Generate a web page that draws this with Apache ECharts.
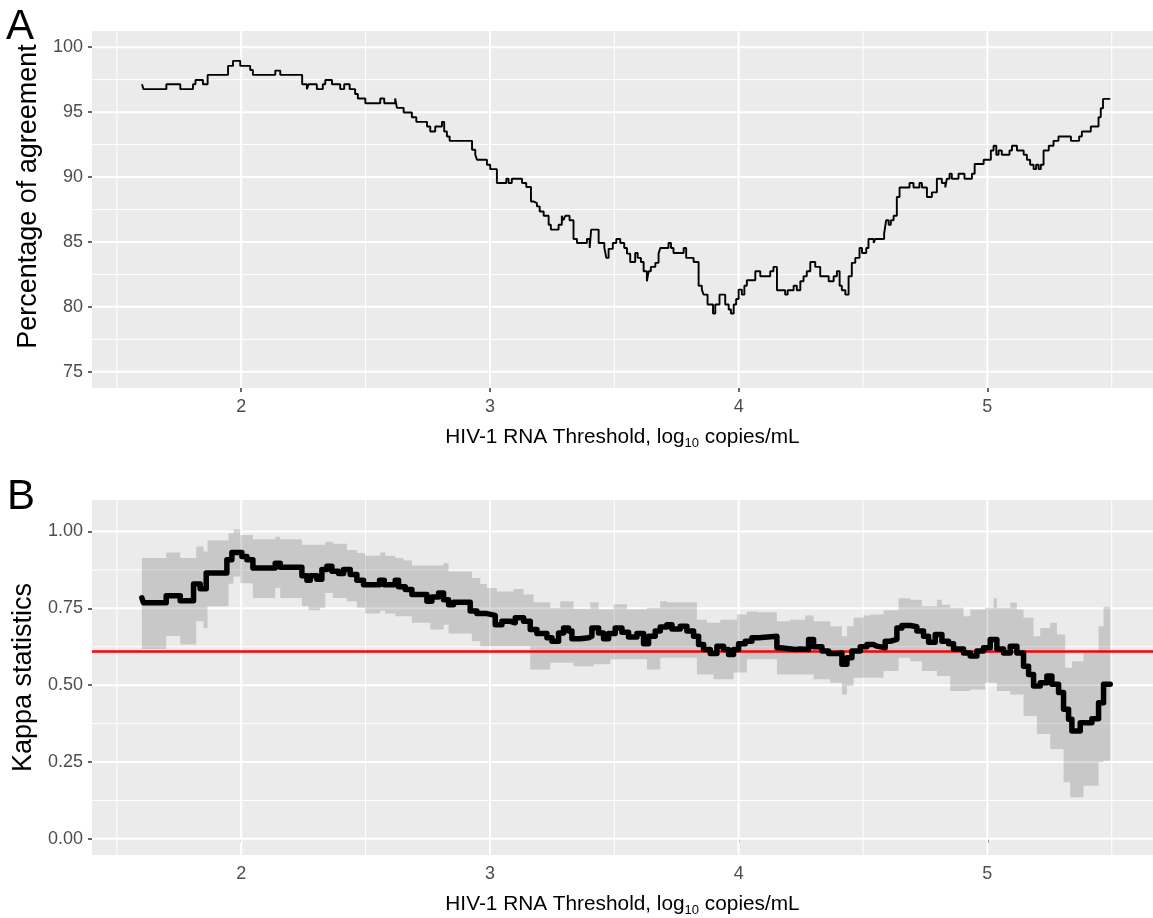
<!DOCTYPE html>
<html><head><meta charset="utf-8">
<script src="https://cdn.jsdelivr.net/npm/echarts@6/dist/echarts.min.js"></script>
<style>html,body{margin:0;padding:0;background:#fff}#c{width:1153px;height:918px}</style>
</head><body><div id="c"></div>
<script>
// ---- axis ticks ----
const xTicks = [2, 3, 4, 5];
const xMinor = [1.5, 2.5, 3.5, 4.5, 5.5];
const agreeTicks = [75, 80, 85, 90, 95, 100];
const agreeMinor = [77.5, 82.5, 87.5, 92.5, 97.5];
const kappaTicks = [0, 0.25, 0.5, 0.75, 1];
const kappaMinor = [0.125, 0.375, 0.625, 0.875];
const xRange = [1.4, 5.666];
const agreeRange = [73.75, 101.25];
const kappaRange = [-0.0525, 1.1025];

// ---- Panel A: percentage of agreement (step) ----
const agreeX = [1.601,1.607,1.699,1.755,1.806,1.816,1.846,1.865,1.947,1.967,1.996,2.036,2.047,2.137,2.157,2.245,2.264,2.271,2.304,2.328,2.338,2.365,2.398,2.414,2.436,2.458,2.469,2.499,2.559,2.575,2.619,2.626,2.653,2.686,2.704,2.747,2.760,2.780,2.807,2.816,2.827,2.838,2.928,2.941,2.948,2.988,3.001,3.028,3.066,3.075,3.088,3.129,3.146,3.165,3.175,3.189,3.200,3.216,3.236,3.245,3.276,3.289,3.296,3.303,3.320,3.336,3.350,3.390,3.401,3.407,3.437,3.460,3.468,3.477,3.494,3.508,3.524,3.540,3.551,3.564,3.584,3.594,3.607,3.618,3.631,3.638,3.647,3.665,3.678,3.685,3.718,3.728,3.738,3.779,3.789,3.819,3.839,3.852,3.859,3.875,3.897,3.906,3.923,3.946,3.960,3.969,3.980,3.990,4.000,4.013,4.023,4.033,4.067,4.087,4.127,4.140,4.154,4.187,4.197,4.221,4.234,4.248,4.261,4.274,4.288,4.308,4.328,4.362,4.382,4.395,4.406,4.415,4.429,4.442,4.455,4.469,4.486,4.496,4.513,4.522,4.543,4.549,4.585,4.593,4.603,4.612,4.623,4.636,4.647,4.687,4.703,4.727,4.737,4.757,4.777,4.797,4.817,4.831,4.837,4.848,4.857,4.884,4.908,4.938,4.949,4.985,5.014,5.025,5.036,5.045,5.058,5.089,5.099,5.119,5.146,5.159,5.172,5.186,5.196,5.206,5.215,5.226,5.247,5.266,5.286,5.336,5.369,5.380,5.416,5.447,5.456,5.465,5.494];
const agreeY = [97.15,96.77,97.15,96.77,97.15,97.48,97.15,97.87,98.56,98.95,98.56,98.25,97.87,98.2,97.87,97.15,96.77,97.15,96.77,97.15,97.48,97.15,96.77,97.15,96.77,96.4,96.05,95.69,96.05,95.69,96.05,95.33,94.97,94.61,94.25,93.89,93.51,93.89,94.25,93.51,93.12,92.79,92.1,91.72,91.33,90.95,90.61,89.54,89.87,89.54,89.87,89.54,89.23,88.12,88.0,87.74,87.35,87.02,86.33,85.95,86.33,87.02,86.67,87.02,86.67,85.23,84.92,85.23,84.54,85.95,84.92,84.54,83.77,84.47,84.92,85.23,84.92,84.54,84.1,83.46,84.15,83.77,83.46,82.74,81.97,82.74,83.08,83.39,84.1,84.54,84.92,84.54,84.15,84.54,83.77,83.46,81.63,81.33,80.94,80.18,79.49,80.18,80.94,80.18,79.8,79.49,80.18,80.6,81.33,80.94,81.63,82.05,82.74,82.36,82.74,83.08,81.28,80.94,81.28,81.63,81.28,81.97,82.36,82.74,83.46,83.08,82.36,81.97,82.36,82.74,81.63,81.28,80.94,82.36,83.39,83.77,84.54,84.15,84.54,85.23,84.92,85.23,85.64,86.67,86.33,86.67,87.02,88.46,89.2,89.54,89.2,89.54,89.2,88.46,88.82,89.87,89.54,89.2,89.87,90.25,89.87,90.25,89.87,90.25,91.0,91.33,92.05,92.41,91.72,92.05,91.72,92.05,92.41,92.05,91.72,91.33,90.95,90.61,90.95,90.61,90.95,92.05,92.41,92.79,93.12,92.79,93.12,93.51,93.89,94.61,95.3,96.02,96.02];

// ---- Panel B: kappa statistics (step) ----
const kappaX = [1.6005,1.6072,1.6984,1.7547,1.8083,1.835,1.8592,1.9423,1.9624,2.0026,2.0227,2.0469,2.1366,2.1567,2.2439,2.264,2.2774,2.3042,2.3243,2.3444,2.3645,2.3913,2.4114,2.4382,2.465,2.4918,2.5562,2.5749,2.6192,2.6326,2.6594,2.6862,2.7465,2.7666,2.7934,2.8135,2.8336,2.8537,2.9207,2.9475,2.9877,3.0213,3.0481,3.0816,3.1017,3.1352,3.162,3.1888,3.2291,3.2492,3.276,3.2961,3.3162,3.3296,3.3631,3.3966,3.41,3.4368,3.4569,3.477,3.5038,3.5306,3.5574,3.591,3.6177,3.6378,3.6646,3.6848,3.7116,3.7317,3.7652,3.7919,3.8188,3.8389,3.859,3.8858,3.9126,3.9394,3.9595,3.9796,3.9997,4.0266,4.0533,4.0801,4.1538,4.1673,4.2276,4.2477,4.2812,4.3013,4.3348,4.3616,4.3951,4.4152,4.4353,4.4554,4.4889,4.5157,4.5425,4.5558,4.5893,4.6094,4.6362,4.6563,4.6898,4.7166,4.7434,4.7636,4.7904,4.8172,4.844,4.8641,4.9043,4.9311,4.9579,4.9847,5.0115,5.0383,5.0651,5.0919,5.1187,5.1455,5.1656,5.1857,5.2126,5.2394,5.2595,5.2863,5.3064,5.3265,5.3399,5.3734,5.4203,5.4471,5.4672,5.494];
const kappaY = [0.784,0.768,0.791,0.775,0.829,0.814,0.865,0.908,0.932,0.919,0.908,0.881,0.897,0.884,0.856,0.841,0.856,0.845,0.876,0.887,0.871,0.863,0.876,0.86,0.841,0.827,0.841,0.827,0.841,0.82,0.811,0.795,0.773,0.787,0.8,0.778,0.762,0.77,0.741,0.733,0.727,0.697,0.708,0.703,0.719,0.708,0.681,0.668,0.654,0.643,0.67,0.686,0.676,0.651,0.654,0.659,0.686,0.67,0.651,0.668,0.686,0.672,0.657,0.668,0.635,0.659,0.676,0.689,0.697,0.683,0.692,0.676,0.659,0.632,0.616,0.603,0.627,0.616,0.6,0.616,0.635,0.643,0.654,0.659,0.622,0.616,0.618,0.616,0.649,0.625,0.611,0.603,0.605,0.568,0.589,0.611,0.625,0.632,0.627,0.622,0.643,0.649,0.686,0.694,0.69,0.676,0.659,0.64,0.665,0.643,0.635,0.618,0.605,0.595,0.611,0.622,0.649,0.618,0.605,0.627,0.605,0.562,0.535,0.497,0.508,0.53,0.503,0.476,0.422,0.389,0.351,0.378,0.391,0.443,0.503,0.503];

// ---- Panel B: confidence band ----
const ribX = [1.6005,1.6984,1.7547,1.819,1.8485,1.8646,1.949,1.9691,1.9959,2.0469,2.1366,2.1567,2.2439,2.2707,2.3176,2.3377,2.3686,2.4248,2.465,2.4985,2.5589,2.5789,2.6192,2.6527,2.6862,2.7599,2.8135,2.8336,2.9274,2.961,2.9878,3.028,3.095,3.1352,3.162,3.1754,3.2425,3.2827,3.3363,3.4033,3.4167,3.4368,3.4837,3.4971,3.5507,3.6312,3.6848,3.7116,3.8322,3.8724,3.8992,3.926,3.9796,3.993,4.0332,4.0734,4.1538,4.2075,4.2678,4.3013,4.3683,4.4152,4.4353,4.4621,4.5023,4.529,4.5826,4.6429,4.6898,4.7367,4.7971,4.8172,4.8507,4.9043,4.9311,4.9914,5.0249,5.0383,5.0919,5.1187,5.1455,5.1857,5.1992,5.2126,5.2528,5.2796,5.3064,5.3131,5.3332,5.3399,5.3868,5.4471,5.4672,5.494];
const ribHi = [0.914,0.932,0.914,0.951,0.935,0.971,0.994,1.007,0.989,0.975,0.983,0.975,0.957,0.957,0.957,0.967,0.96,0.94,0.93,0.921,0.932,0.921,0.914,0.906,0.889,0.889,0.897,0.87,0.849,0.829,0.816,0.805,0.813,0.795,0.795,0.77,0.752,0.773,0.749,0.77,0.77,0.747,0.747,0.763,0.747,0.752,0.773,0.77,0.713,0.703,0.703,0.713,0.713,0.73,0.74,0.737,0.708,0.713,0.727,0.708,0.692,0.659,0.692,0.719,0.727,0.73,0.744,0.783,0.778,0.757,0.778,0.762,0.752,0.724,0.746,0.752,0.783,0.752,0.768,0.746,0.719,0.659,0.659,0.686,0.703,0.665,0.665,0.557,0.557,0.578,0.605,0.692,0.755,0.755];
const ribLo = [0.618,0.66,0.632,0.708,0.686,0.757,0.83,0.854,0.832,0.784,0.816,0.784,0.757,0.744,0.752,0.8,0.784,0.773,0.752,0.733,0.742,0.733,0.724,0.724,0.703,0.681,0.697,0.668,0.643,0.627,0.627,0.627,0.627,0.627,0.551,0.551,0.573,0.573,0.562,0.562,0.568,0.568,0.584,0.584,0.584,0.551,0.589,0.589,0.535,0.535,0.519,0.519,0.541,0.541,0.584,0.584,0.535,0.535,0.535,0.519,0.508,0.47,0.497,0.524,0.524,0.524,0.546,0.589,0.578,0.546,0.53,0.53,0.481,0.481,0.486,0.508,0.508,0.481,0.47,0.47,0.4,0.4,0.341,0.341,0.292,0.292,0.184,0.184,0.135,0.135,0.173,0.249,0.254,0.254];

const kappaRef = 0.61;

// ---- styling ----
const FONT = 'Liberation Sans';
const PANEL_BG = '#EBEBEB';

function gridLines(xi, vals, vertical, width, anchor) {
  return {
    type: 'custom', xAxisIndex: xi, yAxisIndex: xi, silent: true, z: 1, animation: false,
    data: vals.map(v => vertical ? [v, anchor] : [anchor, v]),
    renderItem: function (params, api) {
      const cs = params.coordSys;
      const p = api.coord([api.value(0), api.value(1)]);
      const shape = vertical
        ? { x1: p[0], y1: cs.y, x2: p[0], y2: cs.y + cs.height }
        : { x1: cs.x, y1: p[1], x2: cs.x + cs.width, y2: p[1] };
      return { type: 'line', shape: shape, style: { stroke: '#FFFFFF', lineWidth: width } };
    }
  };
}

function xAxisFor(gi) {
  return {
    type: 'value', gridIndex: gi, min: xRange[0], max: xRange[1],
    name: 'HIV-1 RNA Threshold, log{sub|10} copies/mL',
    nameLocation: 'middle', nameGap: 37,
    nameTextStyle: {
      fontFamily: FONT, fontSize: 20.8, color: '#000',
      rich: { sub: { fontFamily: FONT, fontSize: 13, color: '#000', padding: [12, 0, 0, 0] } }
    },
    axisLine: { show: false },
    splitLine: { show: false },
    axisTick: { show: true, customValues: xTicks, length: 4, lineStyle: { color: '#333333', width: 1.5 } },
    axisLabel: { customValues: xTicks, margin: 10, fontFamily: FONT, fontSize: 18, color: '#4D4D4D' }
  };
}

function yAxisFor(gi, range, ticks, name, fmt, shiftPad) {
  return {
    type: 'value', gridIndex: gi, min: range[0], max: range[1],
    name: name, nameLocation: 'middle', nameGap: 40,
    nameTextStyle: { fontFamily: FONT, fontSize: 27, color: '#000', padding: [0, 0, 0, shiftPad] },
    axisLine: { show: false },
    splitLine: { show: false },
    axisTick: { show: true, customValues: ticks, length: 4, lineStyle: { color: '#333333', width: 1.5 } },
    axisLabel: { customValues: ticks, margin: 9, fontFamily: FONT, fontSize: 18, color: '#4D4D4D', formatter: fmt }
  };
}

const chart = echarts.init(document.getElementById('c'), null, { renderer: 'canvas' });
chart.setOption({
  animation: false,
  backgroundColor: '#FFFFFF',
  textStyle: { fontFamily: FONT },
  graphic: [
    { type: 'text', left: 6, top: 6, style: { text: 'A', fontSize: 42, fontFamily: FONT, fill: '#000' } },
    { type: 'text', left: 7, top: 476, style: { text: 'B', fontSize: 42, fontFamily: FONT, fill: '#000' } }
  ],
  grid: [
    { left: 92, top: 31, width: 1061, height: 357, show: true, backgroundColor: PANEL_BG, borderWidth: 0 },
    { left: 92, top: 500, width: 1061, height: 357, show: true, backgroundColor: PANEL_BG, borderWidth: 0 }
  ],
  xAxis: [xAxisFor(0), xAxisFor(1)],
  yAxis: [
    yAxisFor(0, agreeRange, agreeTicks, 'Percentage of agreement', v => String(v), 26),
    yAxisFor(1, kappaRange, kappaTicks, 'Kappa statistics', v => Number(v).toFixed(2), 0)
  ],
  series: [
    gridLines(0, xMinor, true, 1, 90),
    gridLines(0, agreeMinor, false, 1, 3),
    gridLines(0, xTicks, true, 2, 90),
    gridLines(0, agreeTicks, false, 2, 3),
    gridLines(1, xMinor, true, 1, 0.5),
    gridLines(1, kappaMinor, false, 1, 3),
    gridLines(1, xTicks, true, 2, 0.5),
    gridLines(1, kappaTicks, false, 2, 3),
    {
      type: 'line', xAxisIndex: 0, yAxisIndex: 0, step: 'end', showSymbol: false, symbol: 'none',
      z: 4, silent: true, animation: false,
      lineStyle: { color: '#000000', width: 1.9 },
      data: agreeX.map((x, i) => [x, agreeY[i]])
    },
    {
      type: 'custom', xAxisIndex: 1, yAxisIndex: 1, silent: true, z: 2, animation: false,
      data: [[ribX[0], ribLo[0]]],
      renderItem: function (params, api) {
        const pts = [];
        const n = ribX.length;
        for (let i = 0; i < n - 1; i++) {
          pts.push(api.coord([ribX[i], ribHi[i]]));
          pts.push(api.coord([ribX[i + 1], ribHi[i]]));
        }
        for (let i = n - 2; i >= 0; i--) {
          pts.push(api.coord([ribX[i + 1], ribLo[i]]));
          pts.push(api.coord([ribX[i], ribLo[i]]));
        }
        return { type: 'polygon', shape: { points: pts }, style: { fill: 'rgba(0,0,0,0.15)' } };
      },
      markLine: {
        silent: true, symbol: 'none', animation: false,
        label: { show: false },
        lineStyle: { color: '#FF0000', width: 2.6, type: 'solid' },
        data: [{ yAxis: kappaRef }]
      }
    },
    {
      type: 'line', xAxisIndex: 1, yAxisIndex: 1, step: 'end', showSymbol: false, symbol: 'none',
      z: 8, silent: true, animation: false,
      lineStyle: { color: '#000000', width: 5.5, cap: 'round', join: 'round' },
      data: kappaX.map((x, i) => [x, kappaY[i]])
    }
  ]
});
</script></body></html>
